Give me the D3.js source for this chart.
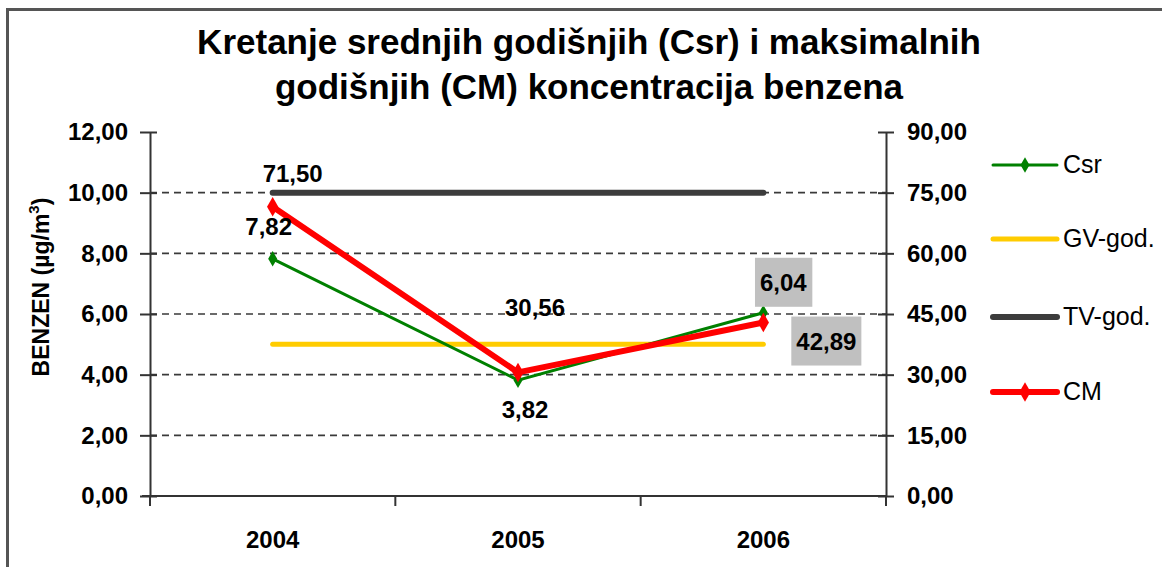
<!DOCTYPE html>
<html>
<head>
<meta charset="utf-8">
<script src="https://cdn.jsdelivr.net/npm/d3@7"></script>
<style>
  body { margin: 0; background: #fff; }
  text { font-family: Arial, "Liberation Sans", sans-serif; fill: #000; }
</style>
</head>
<body>
<svg id="chart" width="1162" height="567"></svg>
<script>
// data
var years = ['2004', '2005', '2006'];
var csr = [7.82, 3.82, 6.04];        // left axis, µg/m3
var cm = [71.50, 30.56, 42.89];      // right axis
var gvGod = [5, 5, 5];               // left axis
var tvGod = [10, 10, 10];            // left axis
var leftTicks = [0, 2, 4, 6, 8, 10, 12];
var rightTicks = [0, 15, 30, 45, 60, 75, 90];
var legendNames = ['Csr', 'GV-god.', 'TV-god.', 'CM'];

var svg = d3.select('#chart');
var fmt = function (v) { return d3.format('.2f')(v).replace('.', ','); };

// frame (only top / left edges show in the crop)
svg.append('rect')
    .attr('x', 7.5).attr('y', 9.5)
    .attr('width', 1200).attr('height', 600)
    .attr('fill', 'none').attr('stroke', '#555').attr('stroke-width', 3);

// title
var title = svg.append('text')
    .attr('text-anchor', 'middle')
    .style('font-size', '35px').style('font-weight', 'bold');
title.append('tspan').attr('x', 589).attr('y', 54).text('Kretanje srednjih godišnjih (Csr) i maksimalnih');
title.append('tspan').attr('x', 589).attr('y', 99).text('godišnjih (CM) koncentracija benzena');

// plot box (top is a reserved window name, so use pTop etc.)
var pLeft = 150, pRight = 886, pTop = 132, pBottom = 496;

var x = d3.scaleBand().domain(years).range([pLeft, pRight]);
var yL = d3.scaleLinear().domain([0, 12]).range([pBottom, pTop]);
var yR = d3.scaleLinear().domain([0, 90]).range([pBottom, pTop]);
var cx = function (i) { return x(years[i]) + x.bandwidth() / 2; };

// dashed grid
svg.append('g').selectAll('line')
    .data(leftTicks.filter(function (d) { return d > 0 && d < 12; }))
    .enter().append('line')
    .attr('x1', pLeft).attr('x2', pRight)
    .attr('y1', function (d) { return yL(d); }).attr('y2', function (d) { return yL(d); })
    .attr('stroke', '#3a3a3a').attr('stroke-width', 1.6)
    .attr('stroke-dasharray', '7,5');

// axes
var axisL = d3.axisLeft(yL).tickValues(leftTicks).tickFormat(fmt).tickSizeInner(10).tickSizeOuter(0).tickPadding(12);
var axisR = d3.axisRight(yR).tickValues(rightTicks).tickFormat(fmt).tickSizeInner(8).tickSizeOuter(0).tickPadding(13);

var gL = svg.append('g').attr('transform', 'translate(' + pLeft + ',0)').call(axisL);
var gR = svg.append('g').attr('transform', 'translate(' + pRight + ',0)').call(axisR);
[gL, gR].forEach(function (g) {
    g.select('.domain').attr('stroke', '#333').attr('stroke-width', 2);
    g.selectAll('.tick line').attr('stroke', '#333').attr('stroke-width', 2);
    g.selectAll('.tick text').style('font-size', '24px').style('font-weight', 'bold')
        .attr('font-family', null).attr('fill', '#000');
});
// cross ticks over the axis lines
gL.selectAll('.tick line').attr('x2', -10).attr('x1', 7);
gR.selectAll('.tick line').attr('x1', -8).attr('x2', 8);

// x axis with category separators
var xAxisG = svg.append('g');
xAxisG.append('line').attr('x1', pLeft - 8).attr('x2', pRight)
    .attr('y1', pBottom).attr('y2', pBottom)
    .attr('stroke', '#333').attr('stroke-width', 2);
xAxisG.selectAll('line.sep')
    .data(years.concat(['end']))
    .enter().append('line').attr('class', 'sep')
    .attr('x1', function (d, i) { return pLeft + i * x.bandwidth(); })
    .attr('x2', function (d, i) { return pLeft + i * x.bandwidth(); })
    .attr('y1', pBottom).attr('y2', pBottom + 10)
    .attr('stroke', '#333').attr('stroke-width', 2);
xAxisG.selectAll('text')
    .data(years)
    .enter().append('text')
    .attr('x', function (d, i) { return cx(i); })
    .attr('y', pBottom + 52)
    .attr('text-anchor', 'middle')
    .style('font-size', '24px').style('font-weight', 'bold')
    .text(function (d) { return d; });

// y axis title
svg.append('text')
    .attr('transform', 'translate(49,287) rotate(-90)')
    .attr('text-anchor', 'middle')
    .style('font-size', '23px').style('font-weight', 'bold')
    .html('BENZEN (µg/m<tspan dy="-10" style="font-size:15px">3</tspan><tspan dy="10">)</tspan>');

// limit lines
var lineL = d3.line().x(function (d, i) { return cx(i); }).y(function (d) { return yL(d); });
var lineR = d3.line().x(function (d, i) { return cx(i); }).y(function (d) { return yR(d); });

svg.append('path').attr('d', lineL(gvGod))
    .attr('fill', 'none').attr('stroke', '#ffcc00').attr('stroke-width', 5).attr('stroke-linecap', 'round');
svg.append('path').attr('d', lineL(tvGod))
    .attr('fill', 'none').attr('stroke', '#3c3c3c').attr('stroke-width', 6).attr('stroke-linecap', 'round');

// Csr
svg.append('path').attr('d', lineL(csr))
    .attr('fill', 'none').attr('stroke', '#008000').attr('stroke-width', 3);
svg.append('g').selectAll('path')
    .data(csr).enter().append('path')
    .attr('d', d3.symbol().type(d3.symbolDiamond).size(70))
    .attr('transform', function (d, i) { return 'translate(' + cx(i) + ',' + yL(d) + ')'; })
    .attr('fill', '#008000');

// CM
svg.append('path').attr('d', lineR(cm))
    .attr('fill', 'none').attr('stroke', '#ff0000').attr('stroke-width', 6).attr('stroke-linejoin', 'round');
svg.append('g').selectAll('path')
    .data(cm).enter().append('path')
    .attr('d', d3.symbol().type(d3.symbolDiamond).size(110))
    .attr('transform', function (d, i) { return 'translate(' + cx(i) + ',' + yR(d) + ')'; })
    .attr('fill', '#ff0000');

// data labels
function label(px, py, txt, box) {
    var g = svg.append('g');
    var t = g.append('text').attr('x', px).attr('y', py)
        .attr('text-anchor', 'middle')
        .style('font-size', '24px').style('font-weight', 'bold')
        .text(txt);
    if (box) {
        var bb = t.node().getBBox();
        g.insert('rect', 'text')
            .attr('x', bb.x - box[0]).attr('y', bb.y - box[1])
            .attr('width', bb.width + 2 * box[0]).attr('height', bb.height + 2 * box[1])
            .attr('fill', '#c0c0c0');
    }
}
label(cx(0) + 20, yR(cm[0]) - 25, fmt(cm[0]));
label(cx(0) - 4, yL(csr[0]) - 24, fmt(csr[0]));
label(cx(1) + 7, yL(csr[1]) + 38, fmt(csr[1]));
label(cx(1) + 17, yR(cm[1]) - 56, fmt(cm[1]));
label(cx(2) + 20, yL(csr[2]) - 22, fmt(csr[2]), [5, 11]);
label(cx(2) + 63, yR(cm[2]) + 27, fmt(cm[2]), [5, 11]);

// legend
var legendColors = ['#008000', '#ffcc00', '#3c3c3c', '#ff0000'];
var legendWidths = [3, 5, 6, 6];
var legendY = [165, 239, 317, 392];
var lg = svg.append('g').selectAll('g')
    .data(legendNames).enter().append('g')
    .attr('transform', function (d, i) { return 'translate(993,' + legendY[i] + ')'; });
lg.append('line').attr('x1', 0).attr('x2', 64)
    .attr('stroke', function (d, i) { return legendColors[i]; })
    .attr('stroke-width', function (d, i) { return legendWidths[i]; })
    .attr('stroke-linecap', 'round');
lg.filter(function (d) { return d === 'Csr' || d === 'CM'; })
    .append('path')
    .attr('d', function (d) { return d3.symbol().type(d3.symbolDiamond).size(d === 'CM' ? 110 : 70)(); })
    .attr('transform', 'translate(32,0)')
    .attr('fill', function (d) { return d === 'CM' ? '#ff0000' : '#008000'; });
lg.append('text').attr('x', 70).attr('y', 8)
    .style('font-size', '25px')
    .text(function (d) { return d; });
</script>
</body>
</html>
